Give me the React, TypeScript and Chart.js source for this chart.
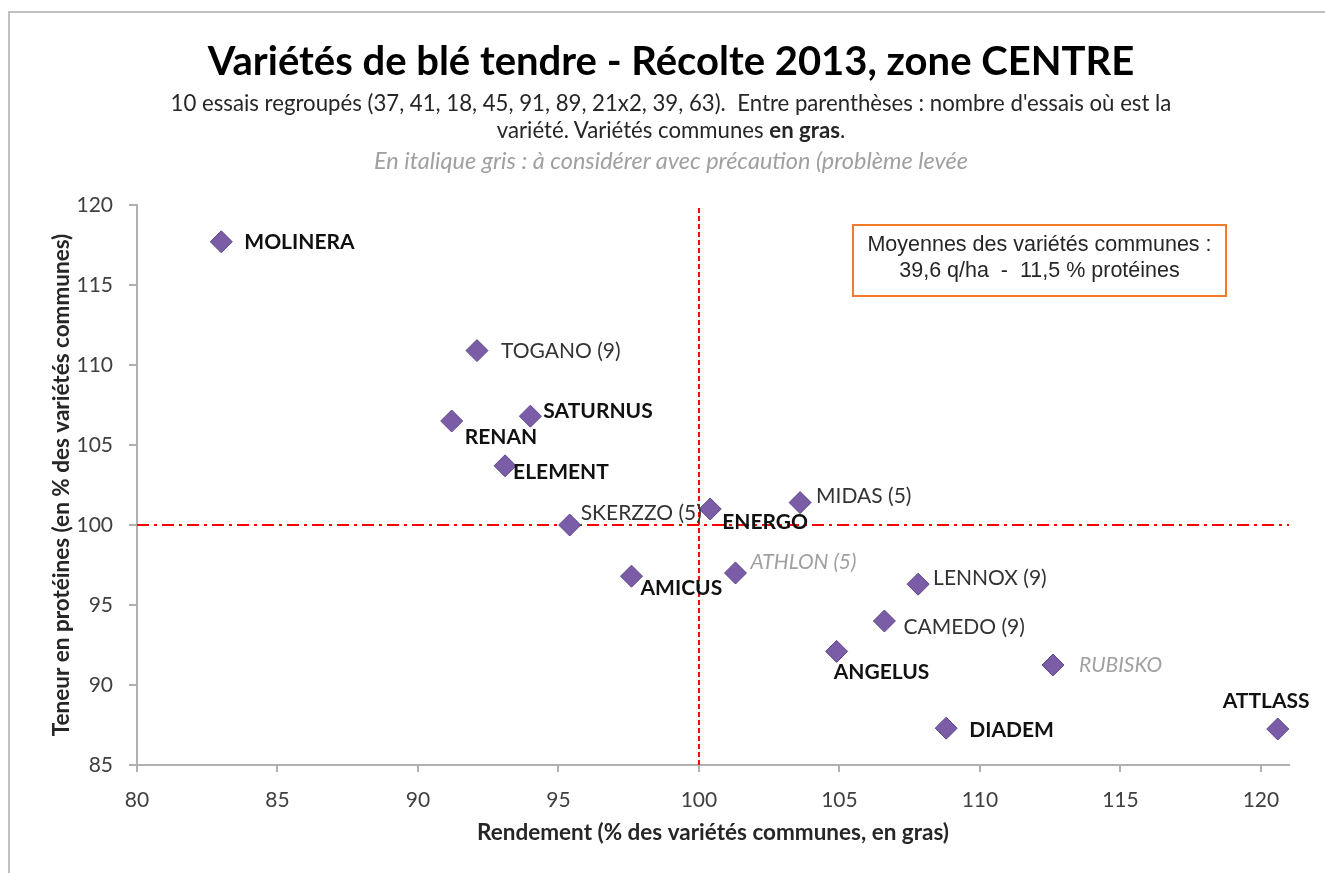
import React, { useEffect, useRef } from "react";
import { Chart, registerables } from "chart.js";
Chart.register(...registerables);

// ---- data ----
const varieties = [
  "MOLINERA", "TOGANO (9)", "SATURNUS", "RENAN", "ELEMENT", "SKERZZO (5)", "ENERGO", "MIDAS (5)",
  "AMICUS", "ATHLON (5)", "LENNOX (9)", "CAMEDO (9)", "ANGELUS", "RUBISKO", "DIADEM", "ATTLASS",
];
const rendement = [83.0, 92.1, 94.0, 91.2, 93.1, 95.4, 100.4, 103.6, 97.6, 101.3, 107.8, 106.6, 104.9, 112.6, 108.8, 120.6];
const proteines = [117.7, 110.9, 106.8, 106.5, 103.7, 100.0, 101.0, 101.4, 96.8, 97.0, 96.3, 94.0, 92.1, 91.25, 87.3, 87.25];
// "common" = bold (variétés communes), "other" = regular, "caution" = grey italic
const category = [
  "common", "other", "common", "common", "common", "other", "common", "other",
  "common", "caution", "other", "other", "common", "caution", "common", "common",
];
const xTicks = [80, 85, 90, 95, 100, 105, 110, 115, 120];
const yTicks = [85, 90, 95, 100, 105, 110, 115, 120];
const refRendement = 100;
const refProteines = 100;

const titleText = "Variétés de blé tendre - Récolte 2013, zone CENTRE";
const subtitle1 = "10 essais regroupés (37, 41, 18, 45, 91, 89, 21x2, 39, 63).  Entre parenthèses : nombre d'essais où est la";
const subtitle2a = "variété. Variétés communes ";
const subtitle2b = "en gras";
const subtitle2c = ".";
const subtitle3 = "En italique gris : à considérer avec précaution (problème levée";
const boxLine1 = "Moyennes des variétés communes :";
const boxLine2 = "39,6 q/ha  -  11,5 % protéines";
const xTitle = "Rendement (% des variétés communes, en gras)";
const yTitle = "Teneur en protéines (en % des variétés communes)";

// ---- label placement (style) ----
const labelOffsets: Record<string, [number, number]> = {
  "MOLINERA": [23, 0],
  "TOGANO (9)": [24, 1],
  "SATURNUS": [13, -5],
  "RENAN": [13, 16],
  "ELEMENT": [8, 6],
  "SKERZZO (5)": [11, -12],
  "ENERGO": [12, 13],
  "MIDAS (5)": [16, -6],
  "AMICUS": [9, 12],
  "ATHLON (5)": [15, -11],
  "LENNOX (9)": [15, -6],
  "CAMEDO (9)": [19, 6],
  "ANGELUS": [-3, 21],
  "RUBISKO": [26, 0],
  "DIADEM": [23, 2],
  "ATTLASS": [-55, -28],
};

const FONT = "Lato, 'Open Sans', sans-serif";
const LABEL_SIZE = 21;

const labelPlugin = {
  id: "pointLabels",
  afterDatasetsDraw(chart: any) {
    const meta = chart.getDatasetMeta(0);
    const ctx = chart.ctx;
    ctx.save();
    ctx.textBaseline = "middle";
    ctx.textAlign = "left";
    meta.data.forEach((pt: any, i: number) => {
      const name = varieties[i];
      const off = labelOffsets[name] || [12, 0];
      const cat = category[i];
      if (cat === "common") {
        ctx.font = `bold ${LABEL_SIZE}px ${FONT}`;
        ctx.fillStyle = "#111111";
      } else if (cat === "caution") {
        ctx.font = `italic ${LABEL_SIZE}px ${FONT}`;
        ctx.fillStyle = "#a0a0a0";
      } else {
        ctx.font = `${LABEL_SIZE}px ${FONT}`;
        ctx.fillStyle = "#333333";
      }
      ctx.fillText(name, pt.x + off[0], pt.y + off[1]);
    });
    ctx.restore();
  },
};

export default function App() {
  const ref = useRef<HTMLCanvasElement>(null);
  useEffect(() => {
    if (!ref.current) return;
    const points = varieties.map((_, i) => ({ x: rendement[i], y: proteines[i] }));
    const chart = new Chart(ref.current, {
      type: "scatter",
      data: {
        datasets: [
          {
            data: points,
            pointStyle: "rectRot",
            pointRadius: 11,
            pointBackgroundColor: "#7a5da6",
            pointBorderColor: "#5e4788",
            pointBorderWidth: 1,
            order: 0,
          },
          {
            type: "line",
            data: [
              { x: refRendement, y: yTicks[0] },
              { x: refRendement, y: yTicks[yTicks.length - 1] },
            ],
            borderColor: "#ff0000",
            borderWidth: 2,
            borderDash: [5, 3],
            pointRadius: 0,
            showLine: true,
            order: 2,
          },
          {
            type: "line",
            data: [
              { x: xTicks[0], y: refProteines },
              { x: 121, y: refProteines },
            ],
            borderColor: "#ff0000",
            borderWidth: 2,
            borderDash: [12, 5, 3, 5],
            pointRadius: 0,
            showLine: true,
            order: 2,
          },
        ],
      },
      options: {
        animation: false,
        responsive: false,
        devicePixelRatio: 1,
        layout: { padding: { top: 205, right: 36, left: 0, bottom: 0 } },
        plugins: { legend: { display: false }, tooltip: { enabled: false }, title: { display: false } },
        scales: {
          x: {
            type: "linear",
            min: 80,
            max: 121,
            afterBuildTicks: (s: any) => { s.ticks = xTicks.map((v) => ({ value: v })); },
            afterFit: (s: any) => { s.height = 108; },
            ticks: { color: "#404040", font: { family: FONT, size: 21 }, padding: 16 },
            grid: { drawOnChartArea: false, drawTicks: true, tickLength: 7, color: "#b0b0b0", lineWidth: 2 },
            border: { display: true, color: "#b0b0b0", width: 2 },
            title: {
              display: true,
              text: xTitle,
              color: "#262626",
              font: { family: FONT, size: 22.5, weight: "bold" },
              padding: { top: 0, bottom: 27 },
            },
          },
          y: {
            type: "linear",
            min: 85,
            max: 120,
            afterBuildTicks: (s: any) => { s.ticks = yTicks.map((v) => ({ value: v })); },
            afterFit: (s: any) => { s.width = 137; },
            ticks: { color: "#404040", font: { family: FONT, size: 21 }, padding: 16 },
            grid: { drawOnChartArea: false, drawTicks: true, tickLength: 8, color: "#b0b0b0", lineWidth: 2 },
            border: { display: true, color: "#b0b0b0", width: 2 },
            title: {
              display: true,
              text: yTitle,
              color: "#262626",
              font: { family: FONT, size: 22.5, weight: "bold" },
              padding: { top: 48, bottom: 0 },
            },
          },
        },
      },
      plugins: [labelPlugin],
    });
    return () => chart.destroy();
  }, []);

  const center: React.CSSProperties = {
    position: "absolute",
    left: 0,
    width: 1342,
    textAlign: "center",
    fontFamily: FONT,
    whiteSpace: "pre",
  };

  return (
    <div style={{ position: "absolute", left: 0, top: 0, width: 1325, height: 873, background: "#fff", overflow: "hidden" }}>
      <canvas ref={ref} width={1325} height={873} style={{ position: "absolute", left: 0, top: 0, width: 1325, height: 873 }} />
      <div style={{ position: "absolute", left: 8, top: 11, width: 1400, height: 900, borderTop: "2px solid #c0c0c0", borderLeft: "2px solid #c0c0c0", pointerEvents: "none" }} />
      <div style={{ ...center, top: 37, lineHeight: "46px", fontSize: 40, fontWeight: "bold", color: "#000" }}>{titleText}</div>
      <div style={{ ...center, top: 89, lineHeight: "28px", fontSize: 22.2, color: "#262626" }}>{subtitle1}</div>
      <div style={{ ...center, top: 116, lineHeight: "28px", fontSize: 22.2, color: "#262626" }}>
        {subtitle2a}<b>{subtitle2b}</b>{subtitle2c}
      </div>
      <div style={{ ...center, top: 146, lineHeight: "28px", fontSize: 23.5, color: "#a0a0a0", fontStyle: "italic" }}>{subtitle3}</div>
      <div
        style={{
          position: "absolute", left: 852, top: 224, width: 371, height: 64,
          border: "2px solid #f47b2a", fontFamily: "'Liberation Sans', Arial, sans-serif",
          fontSize: 21.5, lineHeight: "26px", color: "#262626", textAlign: "center", paddingTop: 5,
          boxSizing: "content-box", whiteSpace: "pre",
        }}
      >
        {boxLine1}
        <br />
        {boxLine2}
      </div>
    </div>
  );
}
